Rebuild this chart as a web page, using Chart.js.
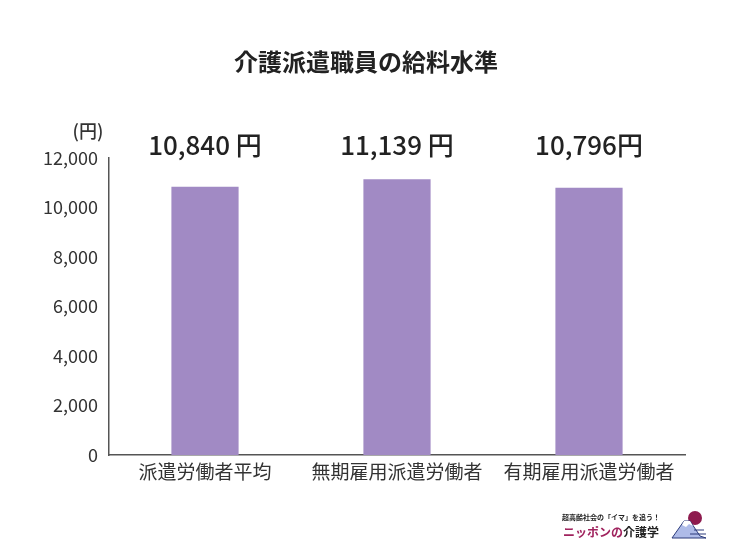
<!DOCTYPE html>
<html>
<head>
<meta charset="utf-8">
<script src="https://cdn.jsdelivr.net/npm/chart.js@4"></script>
<style>
  html, body { margin: 0; padding: 0; background: #fff; }
  #wrap { width: 734px; height: 554px; position: relative; }
</style>
</head>
<body>
<div id="wrap"><canvas id="barChart" width="734" height="554"></canvas></div>
<script>
const categorias = ['派遣労働者平均', '無期雇用派遣労働者', '有期雇用派遣労働者'];
const salarios = [10840, 11139, 10796];
const rotulos = ['10,840 円', '11,139 円', '10,796円'];
const tituloTexto = '介護派遣職員の給料水準';
const unidade = '(円)';

const FONTE = "'Noto Sans CJK JP', 'Noto Sans', sans-serif";

// Desenha título, rótulos de valor e logotipo
const extras = {
  id: 'extras',
  afterDraw(chart) {
    const ctx = chart.ctx;
    const x = chart.scales.x;
    ctx.save();
    ctx.fillStyle = '#222';
    ctx.textAlign = 'center';
    ctx.textBaseline = 'middle';
    ctx.font = 'bold 24px ' + FONTE;
    ctx.fillText(tituloTexto, 366, 62);

    ctx.font = '500 18px ' + FONTE;
    ctx.fillStyle = '#333';
    ctx.fillText(unidade, 88, 131);

    ctx.font = '500 26px ' + FONTE;
    ctx.fillStyle = '#222';
    rotulos.forEach((t, i) => {
      ctx.fillText(t, x.getPixelForValue(i), 145);
    });

    // logotipo
    ctx.textAlign = 'left';
    ctx.font = 'bold 7px ' + FONTE;
    ctx.fillStyle = '#222';
    ctx.fillText('超高齢社会の「イマ」を追う！', 562, 517);
    ctx.font = 'bold 12px ' + FONTE;
    ctx.fillStyle = '#a0235e';
    ctx.fillText('ニッポンの', 563, 532);
    const w = ctx.measureText('ニッポンの').width;
    ctx.fillStyle = '#222';
    ctx.fillText('介護学', 563 + w, 532);

    ctx.fillStyle = '#8e1b4e';
    ctx.beginPath();
    ctx.arc(695, 518, 7, 0, Math.PI * 2);
    ctx.fill();
    ctx.fillStyle = '#aebbe8';
    ctx.strokeStyle = '#2c3b7a';
    ctx.lineWidth = 1;
    ctx.beginPath();
    ctx.moveTo(672, 538);
    ctx.lineTo(684, 521);
    ctx.lineTo(690, 521);
    ctx.lineTo(700, 536);
    ctx.lineTo(706, 538);
    ctx.closePath();
    ctx.fill();
    ctx.stroke();
    ctx.fillStyle = '#fff';
    ctx.beginPath();
    ctx.moveTo(682, 525);
    ctx.lineTo(684, 521);
    ctx.lineTo(690, 521);
    ctx.lineTo(693, 526);
    ctx.lineTo(689, 524);
    ctx.lineTo(686, 527);
    ctx.closePath();
    ctx.fill();
    ctx.beginPath();
    ctx.moveTo(694, 530);
    ctx.lineTo(704, 530);
    ctx.moveTo(690, 534);
    ctx.lineTo(706, 534);
    ctx.stroke();
    ctx.restore();
  }
};

new Chart(document.getElementById('barChart').getContext('2d'), {
  type: 'bar',
  data: {
    labels: categorias,
    datasets: [{
      data: salarios,
      backgroundColor: '#a18ac4',
      borderWidth: 0,
      categoryPercentage: 1,
      barPercentage: 0.35
    }]
  },
  options: {
    responsive: false,
    animation: false,
    layout: { padding: { top: 158, right: 49, bottom: 0, left: 0 } },
    plugins: {
      legend: { display: false },
      title: { display: false },
      tooltip: { enabled: false }
    },
    scales: {
      y: {
        min: 0,
        max: 12000,
        afterFit(s) { s.width = 109; },
        ticks: {
          stepSize: 2000,
          padding: 11,
          font: { size: 18, family: FONTE },
          color: '#333',
          callback: v => v.toLocaleString('en-US')
        },
        grid: { display: false, drawTicks: false },
        border: { color: '#555', width: 1.5 }
      },
      x: {
        afterFit(s) { s.height = 99; },
        ticks: {
          padding: 5,
          font: { size: 19, family: FONTE },
          color: '#333',
          maxRotation: 0
        },
        grid: { display: false, drawTicks: false },
        border: { color: '#555', width: 1.5 }
      }
    }
  },
  plugins: [extras]
});
</script>
</body>
</html>
